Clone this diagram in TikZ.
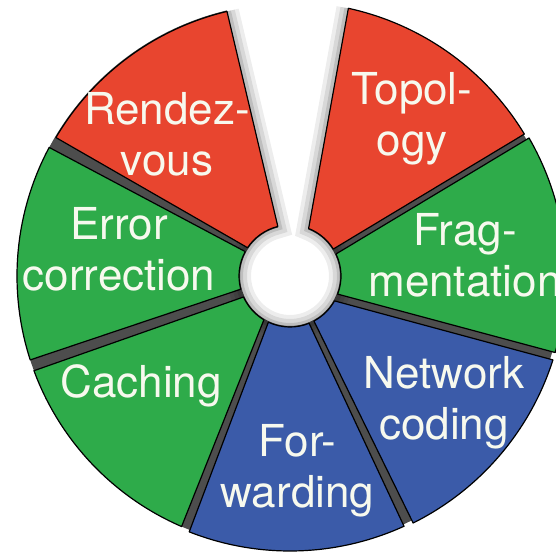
\documentclass[tikz,border=0pt]{standalone}
\usepackage{fontspec}
\setmainfont{TeX Gyre Heros}
\usetikzlibrary{calc}
\definecolor{sectorred}{HTML}{E8452F}
\definecolor{sectorgreen}{HTML}{2EAB4A}
\definecolor{sectorblue}{HTML}{3B5BA9}
\definecolor{gapgray}{HTML}{4D4D4D}
\definecolor{piecewhite}{HTML}{F7F9EE}

\begin{document}
\begin{tikzpicture}[x=1pt, y=1pt,
    piece/.style={draw=black, line width=1.2pt, line join=round},
    wallglow/.style={line cap=round, line join=round,
      preaction={draw=black, opacity=0.07, line width=24pt},
      preaction={draw=black, opacity=0.09, line width=16pt},
      preaction={draw=black, opacity=0.12, line width=8pt}},
    piecetext/.style={text=piecewhite, align=center,
      font=\fontsize{44}{51}\selectfont}
  ]
  \useasboundingbox (0,0) rectangle (556,555);
  \clip (0,0) rectangle (556,555);
  \coordinate (C) at (290,279);

  % dark gaps between the pieces
  \fill[gapgray] ($(C)+(103.4:273)$) arc[start angle=103.4, end angle=437.7, radius=273]
    -- ($(C)+(68.6:50)$) arc[start angle=428.6, end angle=103.8, radius=50] -- cycle;

  % soft shadow round the hole and the open channel
  \path[wallglow] ($(C)+(103.4:272)$) -- ($(C)+(103.8:51)$)
    arc[start angle=103.8, end angle=428.6, radius=51] -- ($(C)+(77.7:274)$);

  % pieces
  \filldraw[piece, fill=sectorgreen] ($(C)+(343.9:276)$) arc[start angle=343.9, end angle=390, radius=276]
    -- ($(C)+(385.6:51)$) arc[start angle=385.6, end angle=339.2, radius=51] -- cycle;
  \filldraw[piece, fill=sectorred] ($(C)+(31.2:274)$) arc[start angle=31.2, end angle=77.7, radius=274]
    -- ($(C)+(68.6:51)$) arc[start angle=68.6, end angle=31.9, radius=51] -- cycle;
  \filldraw[piece, fill=sectorred] ($(C)+(103.4:272)$) arc[start angle=103.4, end angle=149.4, radius=272]
    -- ($(C)+(146.3:51)$) arc[start angle=146.3, end angle=103.8, radius=51] -- cycle;
  \filldraw[piece, fill=sectorgreen] ($(C)+(151.9:273)$) arc[start angle=151.9, end angle=197.9, radius=273]
    -- ($(C)+(195:51)$) arc[start angle=195, end angle=151.4, radius=51] -- cycle;
  \filldraw[piece, fill=sectorgreen] ($(C)+(200.3:273)$) arc[start angle=200.3, end angle=246.6, radius=273]
    -- ($(C)+(239.2:51)$) arc[start angle=239.2, end angle=204.3, radius=51] -- cycle;
  \filldraw[piece, fill=sectorblue] ($(C)+(248.5:275)$) arc[start angle=248.5, end angle=294.5, radius=275]
    -- ($(C)+(292:51)$) arc[start angle=292, end angle=244.9, radius=51] -- cycle;
  \filldraw[piece, fill=sectorblue] ($(C)+(296.5:276)$) arc[start angle=296.5, end angle=342.3, radius=276]
    -- ($(C)+(330.8:51)$) arc[start angle=330.8, end angle=298, radius=51] -- cycle;

  % texts
  \node[piecetext] (topology) at (412,436.5) {Topol-\\ogy};
  \node[piecetext] (rendezvous) at (167,421) {Rendez-\\vous};
  \node[piecetext] (errorcorr) at (119,306) {Error\\correction};
  \node[piecetext] (fragmentation) at (465,300) {Frag-\\mentation};
  \node[piecetext] (caching) at (141,169) {Caching};
  \node[piecetext] (netcoding) at (444,152) {Network\\coding};
  \node[piecetext] (forwarding) at (297.5,84) {For-\\warding};
\end{tikzpicture}
\end{document}
